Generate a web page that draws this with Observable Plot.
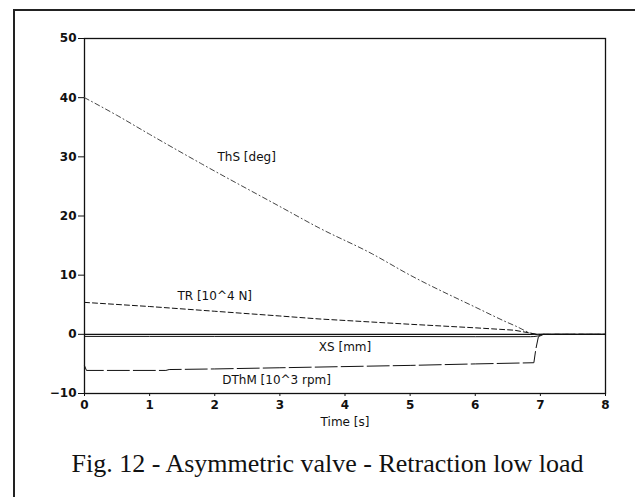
<!DOCTYPE html>
<html>
<head>
<meta charset="utf-8">
<script src="https://cdn.jsdelivr.net/npm/d3@7"></script>
<script src="https://cdn.jsdelivr.net/npm/@observablehq/plot@0.6"></script>
<style>
  html, body { margin: 0; padding: 0; background: #fff; width: 635px; height: 497px; overflow: hidden; }
  #frame { position: absolute; left: 13px; top: 9px; width: 640px; height: 500px; border: 2px solid #222; box-sizing: border-box; }
  #chart { position: absolute; left: 0; top: 0; }
  #caption { position: absolute; left: 0; width: 655px; top: 449px; text-align: center; font-family: "Liberation Serif", "DejaVu Serif", serif; font-size: 26px; color: #111; white-space: nowrap; }
</style>
</head>
<body>
<div id="frame"></div>
<div id="chart"></div>
<div id="caption">Fig. 12 - Asymmetric valve - Retraction low load</div>
<script>
// Time [s]
const thsTime = [0, 0.5, 1, 1.8, 3, 3.6, 4.4, 5, 6, 6.6, 6.95, 7.2, 8];
const thsValue = [40, 37, 33.8, 28.8, 21.6, 18, 13.7, 10, 4.6, 1.5, 0, 0, 0];

const trTime = [0, 1, 2, 3, 3.6, 5, 6, 6.6, 6.95, 7.2, 8];
const trValue = [5.4, 4.7, 3.9, 3.1, 2.6, 1.7, 1.1, 0.7, 0, 0, 0];

const xsTime = [0, 2, 4, 6, 6.85, 6.95, 7.05, 8];
const xsValue = [-0.35, -0.35, -0.35, -0.4, -0.4, -0.3, 0, 0];

const dthmTime = [0, 0.03, 1.25, 1.3, 2, 3, 4, 5, 6, 6.9, 6.93, 6.97, 7.05, 8];
const dthmValue = [-5.3, -6.1, -6.1, -5.95, -5.85, -5.65, -5.45, -5.25, -5.0, -4.8, -2.5, -0.4, 0, 0];

const xTicks = [0, 1, 2, 3, 4, 5, 6, 7, 8];
const yTicks = [-10, 0, 10, 20, 30, 40, 50];

const labels = [
  {t: 2.49, v: 30, text: "ThS [deg]"},
  {t: 2.0, v: 6.4, text: "TR [10^4 N]"},
  {t: 4.0, v: -2.2, text: "XS [mm]"},
  {t: 2.95, v: -7.8, text: "DThM [10^3 rpm]"}
];

const zip = (ts, vs) => ts.map((t, i) => ({t, v: vs[i]}));
const ths = zip(thsTime, thsValue);
const tr = zip(trTime, trValue);
const xs = zip(xsTime, xsValue);
const dthm = zip(dthmTime, dthmValue);

const chart = Plot.plot({
  width: 635,
  height: 440,
  marginLeft: 84,
  marginRight: 30,
  marginTop: 38,
  marginBottom: 47,
  style: {fontFamily: "'DejaVu Sans', Verdana, sans-serif", fontSize: "12px", color: "#111", background: "transparent"},
  x: {domain: [0, 8], ticks: xTicks},
  y: {domain: [-10, 50], ticks: yTicks},
  marks: [
    Plot.frame({stroke: "#111", strokeWidth: 1.3}),
    Plot.axisY({ticks: yTicks, tickSize: 6, tickPadding: 2, fontSize: 12, fontWeight: "bold", label: null, tickFormat: d => String(d).replace("-", "\u2212")}),
    Plot.axisX({ticks: xTicks, tickSize: 3, tickPadding: 4, fontSize: 12, fontWeight: "bold", label: null}),
    Plot.text(["Time [s]"], {frameAnchor: "bottom", dy: 32, fontSize: 12}),
    Plot.ruleY([0], {x1: 0, x2: 8, stroke: "#111", strokeWidth: 1.2}),
    Plot.line(ths, {x: "t", y: "v", stroke: "#444", strokeWidth: 1, strokeDasharray: "5,3,1,3", curve: "monotone-x"}),
    Plot.line(tr, {x: "t", y: "v", stroke: "#111", strokeWidth: 1, strokeDasharray: "5,3"}),
    Plot.line(xs, {x: "t", y: "v", stroke: "#111", strokeWidth: 1, curve: "monotone-x"}),
    Plot.line(dthm, {x: "t", y: "v", stroke: "#111", strokeWidth: 1, strokeDasharray: "22,4"}),
    Plot.text(labels, {x: "t", y: "v", text: "text", fontSize: 12, fill: "#111"})
  ]
});
document.getElementById("chart").appendChild(chart);
</script>
</body>
</html>
